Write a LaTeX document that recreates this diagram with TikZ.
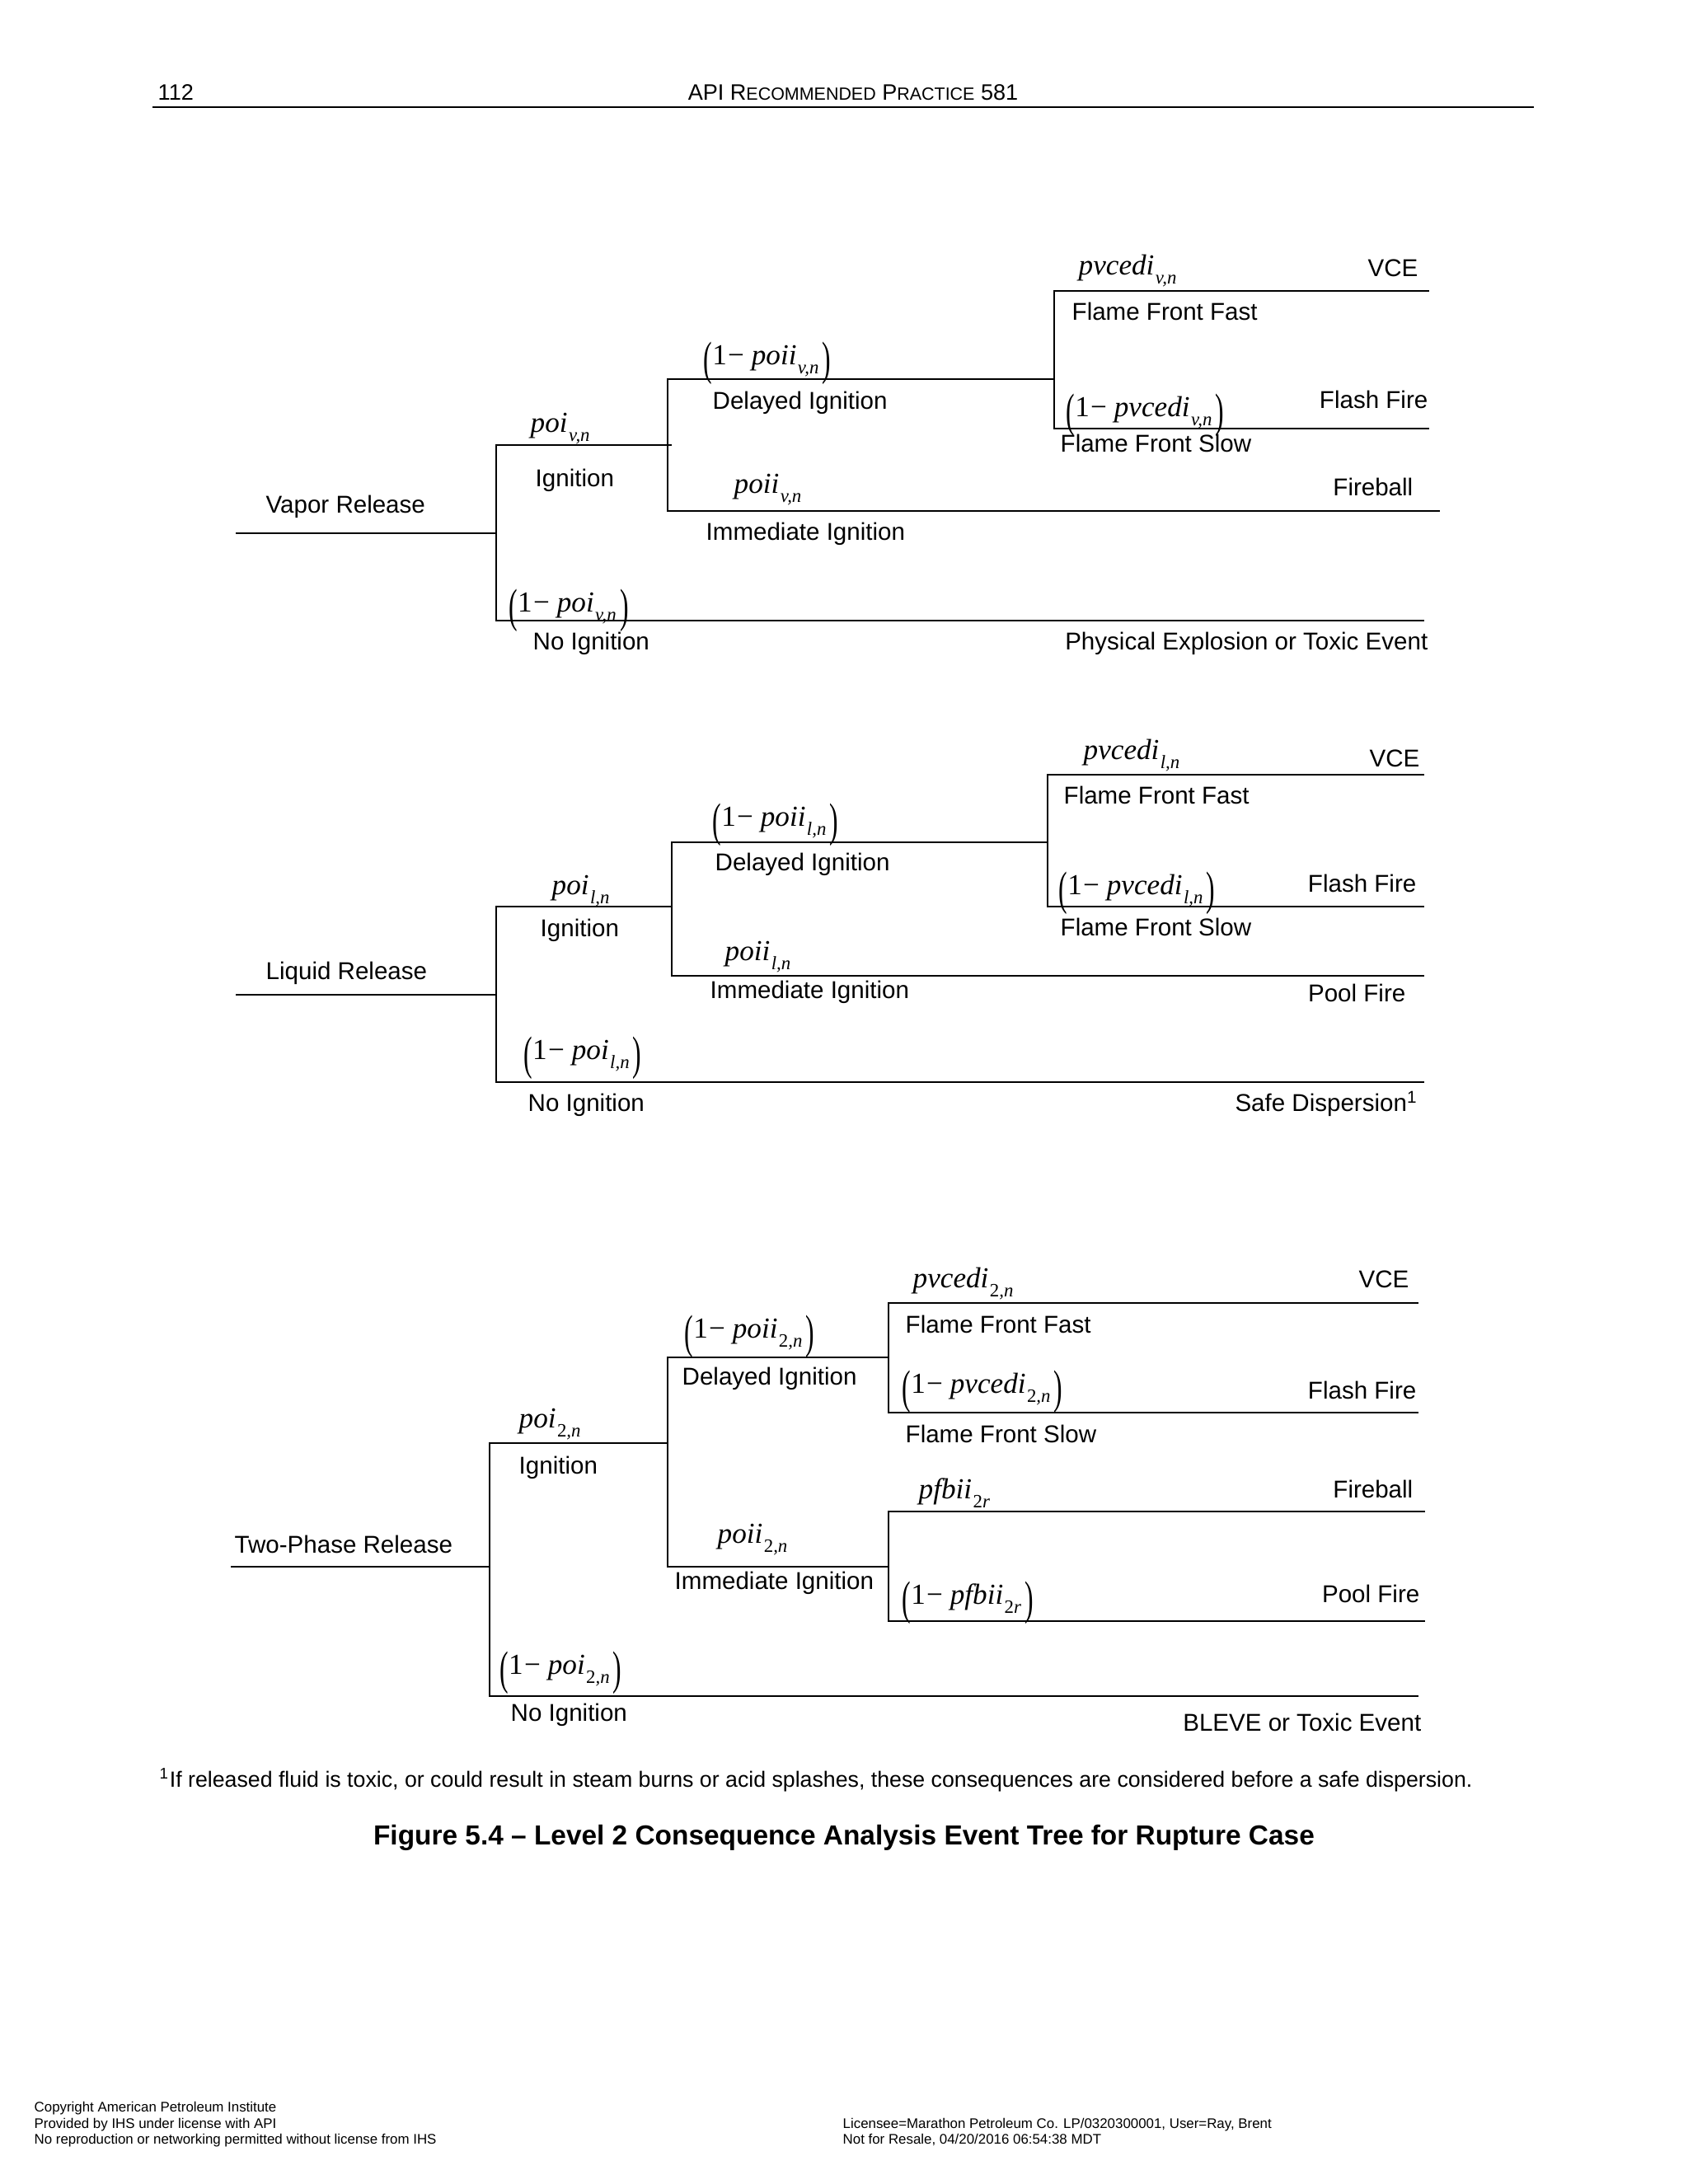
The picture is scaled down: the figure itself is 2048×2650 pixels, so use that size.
\documentclass[tikz,border=0pt]{standalone}
\usepackage{graphicx}
\usepackage{fontspec}
\setmainfont{Liberation Sans}
\newfontfamily\tnr{Liberation Serif}
\usepackage{tikz}
\usetikzlibrary{positioning}

% probability labels in Times-like italics
\newcommand{\lowidx}[1]{\raisebox{-0.32em}{\fontsize{6.5}{6.5}\selectfont\itshape #1}}
\newcommand{\probl}[2]{\textit{#1}\kern0.04em\lowidx{#2}}
\newcommand{\bigpar}[1]{\raisebox{-0.36em}{\scalebox{0.9}[1.62]{#1}}}
\newcommand{\oneminus}[2]{\bigpar{(}1\kern0.04em−\kern0.25em\probl{#1}{#2}\kern0.12em\bigpar{)}}
\newcommand{\fsc}[1]{{\fontsize{6.1}{7}\selectfont #1}}

\begin{document}
\begin{tikzpicture}[
  x=0.01cm, y=-0.01cm,
  tree/.style={line width=0.65pt},
  lbl/.style={inner sep=0pt, font=\fontsize{8.4}{10}\selectfont},
  prob/.style={inner sep=0pt, font=\fontsize{10}{12}\selectfont\tnr},
  hdr/.style={inner sep=0pt, font=\fontsize{7.7}{9}\selectfont},
  foot/.style={inner sep=0pt, font=\fontsize{4.8}{5.5}\selectfont, anchor=base west}
]
\useasboundingbox (0,0) rectangle (2048,2650);

% page header
\node[hdr, anchor=base west] (pgno) at (191,121) {112};
\node[hdr, anchor=base] (rptitle) at (1035,121) {API R\fsc{ECOMMENDED} P\fsc{RACTICE} 581};
\draw[line width=0.75pt] (185,130) -- (1861,130);

%% vapor release
\coordinate (v0) at (286,647);
\coordinate (vs) at (602,647);
\coordinate (vign) at (810,540);
\coordinate (vnoe) at (1728,753);
\coordinate (vdel) at (1279,460);
\coordinate (vime) at (1747,620);
\coordinate (vvce) at (1734,353);
\coordinate (vflash) at (1734,520);
\draw[tree] (v0) -- (vs);
\draw[tree] (vs) |- (vign) -- ++(5,0);
\draw[tree] (vs) |- (vnoe);
\draw[tree] (vign) |- (vdel);
\draw[tree] (vign) |- (vime);
\draw[tree] (vdel) |- (vvce);
\draw[tree] (vdel) |- (vflash);

\node[lbl, anchor=base west] (vrel) at (322,622) {Vapor Release};
\node[prob, anchor=base west] (vpoi) at (643,524) {\probl{poi}{v,n}};
\node[lbl, anchor=base west] (vigl) at (649,590) {Ignition};
\node[prob, anchor=base west] (vnpoii) at (853,442) {\oneminus{poii}{v,n}};
\node[lbl, anchor=base west] (vdell) at (864,496) {Delayed Ignition};
\node[prob, anchor=base west] (vpoii) at (890,598) {\probl{poii}{v,n}};
\node[lbl, anchor=base west] (viml) at (856,655) {Immediate Ignition};
\node[prob, anchor=base west] (vnpoi) at (617,742) {\oneminus{poi}{v,n}};
\node[lbl, anchor=base west] (vnol) at (646,788) {No Ignition};
\node[prob, anchor=base west] (vpv) at (1308,333) {\probl{pvcedi}{v,n}};
\node[lbl, anchor=base east] (vvcel) at (1721,335) {VCE};
\node[lbl, anchor=base west] (vfast) at (1300,388) {Flame Front Fast};
\node[prob, anchor=base west] (vnpv) at (1293,505) {\oneminus{pvcedi}{v,n}};
\node[lbl, anchor=base east] (vflashl) at (1733,495) {Flash Fire};
\node[lbl, anchor=base west] (vslow) at (1286,548) {Flame Front Slow};
\node[lbl, anchor=base east] (vball) at (1715,601) {Fireball};
\node[lbl, anchor=base east] (vtox) at (1733,788) {Physical Explosion or Toxic Event};

%% liquid release
\coordinate (l0) at (286,1207);
\coordinate (ls) at (602,1207);
\coordinate (lign) at (815,1100);
\coordinate (lnoe) at (1728,1313);
\coordinate (ldel) at (1271,1022);
\coordinate (lime) at (1728,1184);
\coordinate (lvce) at (1728,940);
\coordinate (lflash) at (1728,1100);
\draw[tree] (l0) -- (ls);
\draw[tree] (ls) |- (lign);
\draw[tree] (ls) |- (lnoe);
\draw[tree] (lign) |- (ldel);
\draw[tree] (lign) |- (lime);
\draw[tree] (ldel) |- (lvce);
\draw[tree] (ldel) |- (lflash);

\node[lbl, anchor=base west] (lrel) at (322,1188) {Liquid Release};
\node[prob, anchor=base west] (lpoi) at (669,1085) {\probl{poi}{l,n}};
\node[lbl, anchor=base west] (ligl) at (655,1136) {Ignition};
\node[prob, anchor=base west] (lnpoii) at (864,1002) {\oneminus{poii}{l,n}};
\node[lbl, anchor=base west] (ldell) at (867,1056) {Delayed Ignition};
\node[prob, anchor=base west] (lpoii) at (879,1165) {\probl{poii}{l,n}};
\node[lbl, anchor=base west] (liml) at (861,1211) {Immediate Ignition};
\node[prob, anchor=base west] (lnpoi) at (635,1285) {\oneminus{poi}{l,n}};
\node[lbl, anchor=base west] (lnol) at (640,1348) {No Ignition};
\node[prob, anchor=base west] (lpv) at (1314,921) {\probl{pvcedi}{l,n}};
\node[lbl, anchor=base east] (lvcel) at (1723,930) {VCE};
\node[lbl, anchor=base west] (lfast) at (1290,975) {Flame Front Fast};
\node[prob, anchor=base west] (lnpv) at (1284,1085) {\oneminus{pvcedi}{l,n}};
\node[lbl, anchor=base east] (lflashl) at (1719,1082) {Flash Fire};
\node[lbl, anchor=base west] (lslow) at (1286,1135) {Flame Front Slow};
\node[lbl, anchor=base east] (lpool) at (1706,1215) {Pool Fire};
\node[lbl, anchor=base east] (lsafe) at (1721,1348) {Safe Dispersion\textsuperscript{1}};

%% two-phase release
\coordinate (t0) at (280,1901);
\coordinate (ts) at (594,1901);
\coordinate (tign) at (810,1751);
\coordinate (tnoe) at (1721,2058);
\coordinate (tdel) at (1078,1647);
\coordinate (time) at (1078,1901);
\coordinate (tvce) at (1721,1581);
\coordinate (tflash) at (1721,1714);
\coordinate (tfire) at (1729,1834);
\coordinate (tpool) at (1729,1967);
\draw[tree] (t0) -- (ts);
\draw[tree] (ts) |- (tign);
\draw[tree] (ts) |- (tnoe);
\draw[tree] (tign) |- (tdel);
\draw[tree] (tign) |- (time);
\draw[tree] (tdel) |- (tvce);
\draw[tree] (tdel) |- (tflash);
\draw[tree] (time) |- (tfire);
\draw[tree] (time) |- (tpool);

\node[lbl, anchor=base west] (trel) at (284,1884) {Two-Phase Release};
\node[prob, anchor=base west] (tpoi) at (629,1732) {\probl{poi}{{\upshape 2},n}};
\node[lbl, anchor=base west] (tigl) at (629,1788) {Ignition};
\node[prob, anchor=base west] (tnpoii) at (830,1623) {\oneminus{poii}{{\upshape 2},n}};
\node[lbl, anchor=base west] (tdell) at (827,1680) {Delayed Ignition};
\node[prob, anchor=base west] (tpoii) at (870,1872) {\probl{poii}{{\upshape 2},n}};
\node[lbl, anchor=base west] (timl) at (818,1928) {Immediate Ignition};
\node[prob, anchor=base west] (tnpoi) at (606,2031) {\oneminus{poi}{{\upshape 2},n}};
\node[lbl, anchor=base west] (tnol) at (619,2088) {No Ignition};
\node[prob, anchor=base west] (tpv) at (1107,1562) {\probl{pvcedi}{{\upshape 2},n}};
\node[lbl, anchor=base east] (tvcel) at (1710,1562) {VCE};
\node[lbl, anchor=base west] (tfast) at (1098,1617) {Flame Front Fast};
\node[prob, anchor=base west] (tnpv) at (1094,1690) {\oneminus{pvcedi}{{\upshape 2},n}};
\node[lbl, anchor=base east] (tflashl) at (1719,1697) {Flash Fire};
\node[lbl, anchor=base west] (tslow) at (1098,1750) {Flame Front Slow};
\node[prob, anchor=base west] (tpfb) at (1114,1818) {\probl{pfbii}{{\upshape 2}r}};
\node[lbl, anchor=base east] (tball) at (1715,1817) {Fireball};
\node[prob, anchor=base west] (tnpfb) at (1094,1946) {\oneminus{pfbii}{{\upshape 2}r}};
\node[lbl, anchor=base east] (tpool) at (1723,1944) {Pool Fire};
\node[lbl, anchor=base east] (tbleve) at (1725,2100) {BLEVE or Toxic Event};

% footnote and caption
\node[inner sep=0pt, anchor=base west, font=\fontsize{7.6}{9}\selectfont] (fnote) at (193,2168)
  {\textsuperscript{1}If released fluid is toxic, or could result in steam burns or acid splashes, these consequences are considered before a safe dispersion.};
\node[inner sep=0pt, anchor=base, font=\fontsize{9.5}{11}\selectfont\bfseries] (caption) at (1024,2238)
  {Figure 5.4 – Level 2 Consequence Analysis Event Tree for Rupture Case};

% page footer
\node[foot] (f1) at (41,2562) {Copyright American Petroleum Institute};
\node[foot] (f2) at (41,2582) {Provided by IHS under license with API};
\node[foot] (f3) at (41,2601) {No reproduction or networking permitted without license from IHS};
\node[foot] (f4) at (1022,2582) {Licensee=Marathon Petroleum Co. LP/0320300001, User=Ray, Brent};
\node[foot] (f5) at (1022,2601) {Not for Resale, 04/20/2016 06:54:38 MDT};
\end{tikzpicture}
\end{document}
